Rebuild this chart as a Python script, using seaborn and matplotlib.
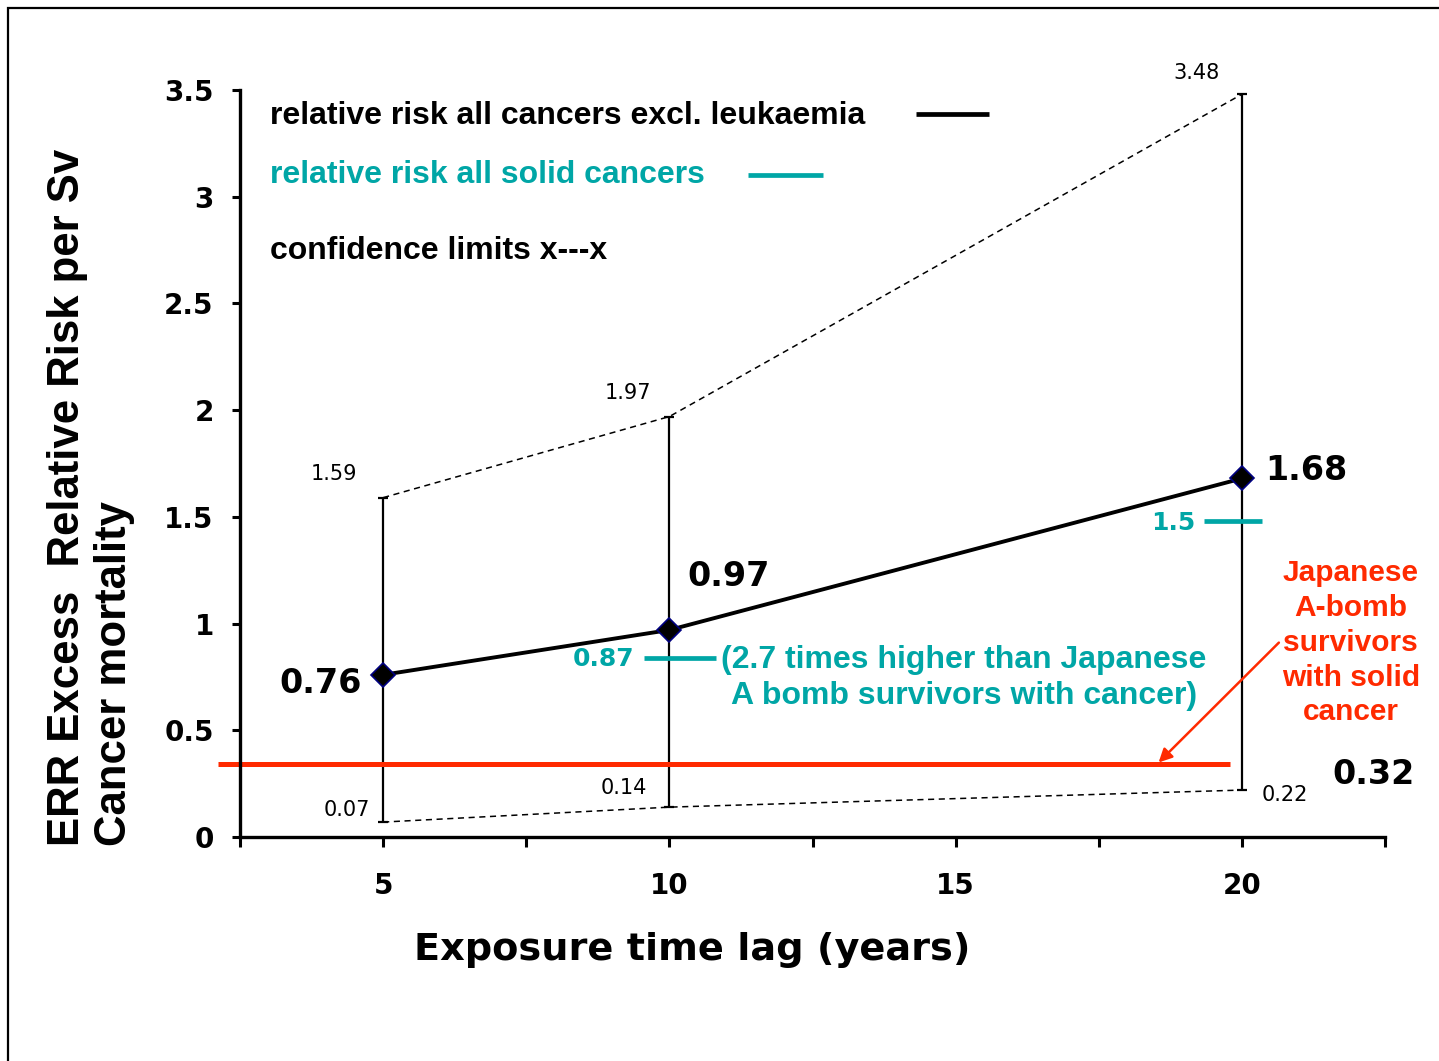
import numpy as np
import pandas as pd
import matplotlib
matplotlib.use("Agg")
import matplotlib.pyplot as plt
import seaborn as sns
from matplotlib.patches import Rectangle

# ---- data ----
lag_years = [5, 10, 20]
err_all_excl_leuk = [0.76, 0.97, 1.68]
ci_upper = [1.59, 1.97, 3.48]
ci_lower = [0.07, 0.14, 0.22]
solid_labels = ["0.87", "1.5"]
solid_drawn = [0.84, 1.48]          # where the teal dashes actually sit
abomb_label = "0.32"
abomb_drawn = 0.34

x_ticks = [2.5, 5, 7.5, 10, 12.5, 15, 17.5, 20, 22.5]
x_tick_labels = ["", "5", "", "10", "", "15", "", "20", ""]
y_ticks = [0, 0.5, 1, 1.5, 2, 2.5, 3, 3.5]
y_tick_labels = ["0", "0.5", "1", "1.5", "2", "2.5", "3", "3.5"]

TEAL = "#00a6a6"
RED = "#ff2a00"

sns.set_theme(style="white")
plt.rcParams["font.family"] = ["DejaVu Sans"]
for k in ["text.color", "axes.labelcolor", "xtick.color", "ytick.color"]:
    plt.rcParams[k] = "black"

df = pd.DataFrame({"lag": lag_years, "err": err_all_excl_leuk,
                   "hi": ci_upper, "lo": ci_lower})

fig = plt.figure(figsize=(14.39, 10.61), dpi=100)
ax = fig.add_axes([0.1668, 0.2111, 0.9625 - 0.1668, 0.9152 - 0.2111])

# frame round the whole slide
fig.patches.append(Rectangle((8 / 1439, -0.1), 1.2, 1 - 8 / 1061 + 0.1,
                             transform=fig.transFigure, fill=False,
                             edgecolor="black", linewidth=1.6))

# confidence limits
sns.lineplot(data=df, x="lag", y="hi", ax=ax, color="black", lw=1.1,
             linestyle=(0, (4, 3)))
sns.lineplot(data=df, x="lag", y="lo", ax=ax, color="black", lw=1.1,
             linestyle=(0, (4, 3)))
ax.errorbar(df["lag"], df["err"],
            yerr=[df["err"] - df["lo"], df["hi"] - df["err"]],
            fmt="none", ecolor="black", elinewidth=1.6, capsize=3.5, capthick=1.6)

# main series
sns.lineplot(data=df, x="lag", y="err", ax=ax, color="black", lw=2.8,
             marker="D", markersize=12, markerfacecolor="black",
             markeredgecolor="#000080", markeredgewidth=1.2)

# solid cancers dashes
ax.plot([9.55, 10.82], [solid_drawn[0]] * 2, color=TEAL, lw=3.4, solid_capstyle="butt")
ax.plot([19.34, 20.35], [solid_drawn[1]] * 2, color=TEAL, lw=3.4, solid_capstyle="butt")

# A-bomb survivors line
ax.plot([2.12, 19.8], [abomb_drawn] * 2, color=RED, lw=3.6, clip_on=False,
        solid_capstyle="butt")
ax.annotate("", xy=(18.51, abomb_drawn), xytext=(20.68, 0.92),
            arrowprops=dict(arrowstyle="-|>", color=RED, lw=1.8,
                            mutation_scale=20))

# value labels
big = dict(fontsize=24, fontweight="bold", color="black")
ax.text(3.9, 0.72, f"{err_all_excl_leuk[0]:.2f}", ha="center", va="center", **big)
ax.text(11.03, 1.22, f"{err_all_excl_leuk[1]:.2f}", ha="center", va="center", **big)
ax.text(21.12, 1.715, f"{err_all_excl_leuk[2]:.2f}", ha="center", va="center", **big)
ax.text(22.3, 0.295, abomb_label, ha="center", va="center", clip_on=False, **big)

small = dict(fontsize=15, color="black", ha="center", va="center")
ax.text(4.14, 1.70, f"{ci_upper[0]:.2f}", **small)
ax.text(9.28, 2.08, f"{ci_upper[1]:.2f}", **small)
ax.text(19.2, 3.58, f"{ci_upper[2]:.2f}", clip_on=False, **small)
ax.text(4.37, 0.127, f"{ci_lower[0]:.2f}", **small)
ax.text(9.21, 0.23, f"{ci_lower[1]:.2f}", **small)
ax.text(20.75, 0.197, f"{ci_lower[2]:.2f}", **small)

teal = dict(fontweight="bold", color=TEAL, va="center")
ax.text(9.39, 0.834, solid_labels[0], ha="right", fontsize=18, **teal)
ax.text(19.18, 1.47, solid_labels[1], ha="right", fontsize=18, **teal)
ax.text(15.14, 0.745, "(2.7 times higher than Japanese\nA bomb survivors with cancer)",
        ha="center", multialignment="center", linespacing=1.26, fontsize=23,
        family="Liberation Sans", **teal)

ax.text(21.9, 0.91, "Japanese\nA-bomb\nsurvivors\nwith solid\ncancer",
        ha="center", va="center", multialignment="center", linespacing=1.31,
        fontsize=21.5, fontweight="bold", color=RED, family="Liberation Sans",
        clip_on=False)

# legend written as text, like the slide
leg = dict(fontsize=23, fontweight="bold", family="Liberation Sans", va="center")
ax.text(3.02, 3.38, "relative risk all cancers excl. leukaemia", color="black", **leg)
ax.plot([14.3, 15.58], [3.388, 3.388], color="black", lw=3.4, solid_capstyle="butt")
ax.text(3.02, 3.10, "relative risk all solid cancers", color=TEAL, **leg)
ax.plot([11.38, 12.69], [3.10, 3.10], color=TEAL, lw=3.4, solid_capstyle="butt")
ax.text(3.02, 2.746, "confidence limits x---x", color="black", **leg)

# axes
ax.set_xlim(2.5, 22.5)
ax.set_ylim(0, 3.5)
ax.set_xticks(x_ticks)
ax.set_xticklabels(x_tick_labels, fontsize=20, fontweight="bold")
ax.set_yticks(y_ticks)
ax.set_yticklabels(y_tick_labels, fontsize=20, fontweight="bold")
ax.tick_params(axis="x", direction="out", length=7, width=2.2, pad=18, bottom=True)
ax.tick_params(axis="y", direction="out", length=6, width=2.2, pad=13, left=True)
for side in ["top", "right"]:
    ax.spines[side].set_visible(False)
for side in ["left", "bottom"]:
    ax.spines[side].set_linewidth(2.4)
    ax.spines[side].set_color("black")

ax.set_xlabel("Exposure time lag (years)", fontsize=27.5, fontweight="bold")
ax.xaxis.set_label_coords(0.395, -0.127)
ax.set_ylabel("")
fig.text(91 / 1439, 1 - 497 / 1061, "ERR Excess  Relative Risk per Sv\nCancer mortality",
         rotation=90, ha="center", va="center", multialignment="left",
         linespacing=1.2, fontsize=31.5, fontweight="bold", family="Liberation Sans")

fig.savefig("out.png", dpi=100)
